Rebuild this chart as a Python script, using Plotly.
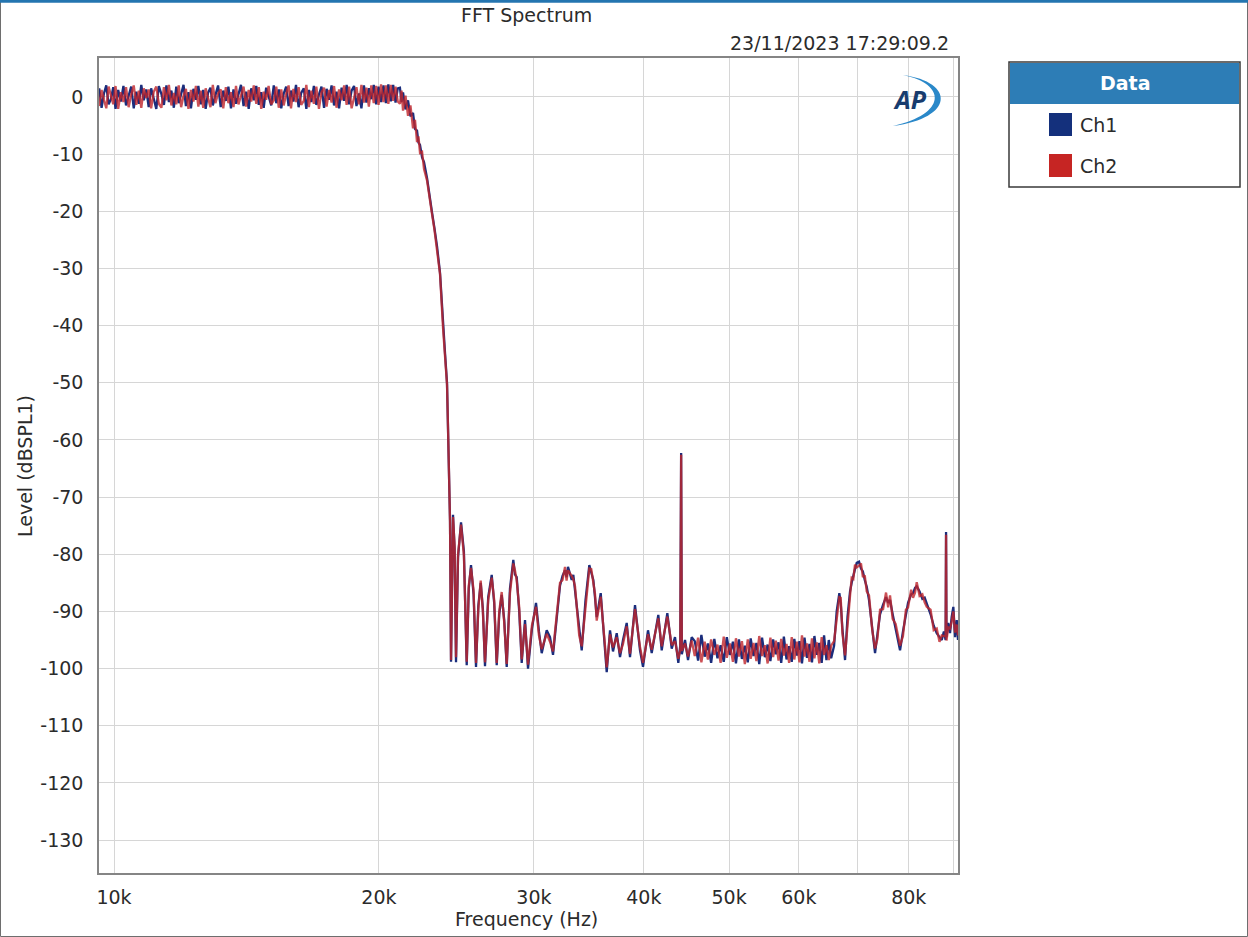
import math
import plotly.graph_objects as go

# ---------------------------------------------------------------------------
# FFT spectrum data (frequency in Hz, level in dBSPL1)
# ---------------------------------------------------------------------------

# Passband (flat region, noisy around 0 dB)
pass_freq = [9620, 9680, 9740, 9800, 9860, 9920, 9980,
             10040, 10110, 10180, 10250, 10320, 10390, 10460, 10530, 10600, 10670,
             10740, 10810, 10880, 10950,
             11020, 11095, 11170, 11245, 11320, 11395, 11470, 11545, 11620, 11695,
             11770, 11845, 11920, 11995,
             12070, 12150, 12230, 12310, 12390, 12470, 12550, 12630, 12710, 12790,
             12870, 12950,
             13040, 13130, 13220, 13310, 13400, 13490, 13580, 13670, 13760, 13850,
             13940,
             14035, 14130, 14225, 14320, 14415, 14510, 14605, 14700, 14795, 14890,
             14985,
             15090, 15190, 15290, 15390, 15490, 15590, 15690, 15790, 15890, 15990,
             16100, 16210, 16320, 16430, 16540, 16650, 16760, 16870, 16980,
             17095, 17210, 17325, 17440, 17555, 17670, 17785, 17900,
             18020, 18140, 18260, 18380, 18500, 18620, 18740, 18860, 18980,
             19105, 19230, 19355, 19480, 19605, 19730, 19855, 19980,
             20110, 20240, 20370, 20500, 20630, 20760, 20890, 21010]
pass_ch1 = [1.5, -1.9, 0.6, 2.0, -1.3, -0.4, 1.7, -2.1, 1.2, -0.8,
            1.9, -1.5, 0.2, 1.8, -2.0, 0.9, -1.2, 2.1, -0.6, 1.3,
            -1.8, 1.5, -0.3, -2.1, 1.9, 0.5, -1.4, 2.0, -0.9, 1.1,
            -1.9, 1.8, -1.1, 0.4, 2.1, -1.6, 0.8, -2.0, 1.4, -0.5,
            1.9, -1.3, 1.2, -2.1, 0.7, 1.6, -1.5, 0.3, 2.0, -1.8,
            1.1, -0.7, 1.8, -2.0, 1.3, -1.2, 0.5, 2.1, -1.6, 0.9,
            -2.1, 1.5, -0.6, 1.9, -1.4, 0.8, -1.9, 1.6, 0.1, -1.5,
            2.0, -1.1, 1.3, -2.0, 0.6, 1.8, -1.6, 1.1, -0.8, 2.1,
            -1.8, 0.7, 1.5, -2.1, 1.2, -0.9, 1.9, -1.4, 0.4, 1.8,
            -1.9, 1.4, -0.5, 2.0, -1.5, 0.9, -2.0, 1.6, -0.7, 2.1,
            -1.3, 1.1, 1.9, -1.6, 0.6, -2.0, 2.0, -1.0, 1.5, -0.4,
            2.1, -1.3, 1.8, -0.9, 2.0, -1.1, 2.2, -0.8, 2.1, -1.0,
            1.5]
pass_ch2 = [-1.6, 1.2, -0.5, -2.0, 1.8, 0.3, -1.3, 1.9, -2.1, 0.8,
            -0.9, 1.7, -1.8, 0.4, 2.0, -1.4, 1.1, -1.9, 1.5, -0.2,
            1.3, -2.0, 0.9, 1.8, -1.2, -1.9, 1.7, -0.6, 2.1, -1.5,
            0.7, -1.3, 2.0, -1.8, 0.2, 1.4, -2.1, 1.2, -0.8, 1.9,
            -1.7, 1.1, -1.9, 1.5, -0.4, -1.8, 2.1, -1.1, 0.6, 1.3,
            -2.0, 1.7, -1.1, 0.8, -1.8, 1.9, -1.3, 0.3, 1.8, -1.7,
            1.2, -0.8, 2.0, -1.2, 1.7, -2.1, 0.9, -0.5, 1.9, -1.3,
            -0.6, 1.8, -1.9, 1.3, -1.5, 0.5, 2.0, -2.0, 1.4, -0.9,
            1.7, -1.4, -0.7, 2.1, -1.8, 1.1, -1.2, 1.8, -2.1, 0.8,
            1.6, -1.7, 1.2, -1.0, 1.9, -1.9, 1.3, -0.6, 2.0, -1.4,
            1.8, -2.0, -0.4, 1.7, -1.3, 2.1, -1.0, 1.6, -1.7, 2.0,
            -1.1, 1.9, -1.4, 2.2, -0.9, 2.0, -1.2, 2.1, -0.7, 1.8,
            -0.8]

# Filter roll-off
roll_freq = [21130, 21220, 21302, 21440, 21582, 21720, 21866, 21980, 22096, 22180,
             22270, 22390, 22505, 22682, 22830, 22981, 23130, 23283, 23467, 23652,
             23780, 23900, 23963, 24030, 24089, 24152]
roll_ch1 = [1.6, -0.9, 0.8, -2.2, -0.6, -3.4, -2.8, -5.6, -5.9, -8.0,
            -8.4, -10.6, -11.4, -14.2, -16.8, -20.2, -23.0, -26.1, -30.8, -40.2,
            -45.0, -50.0, -57.5, -65.0, -74.0, -98.8]
roll_ch2 = [-1.2, 1.1, -2.4, 0.2, -3.3, -1.5, -5.5, -4.0, -7.9, -6.9,
            -9.8, -9.6, -12.6, -14.6, -17.2, -20.5, -23.3, -26.4, -31.0, -40.4,
            -45.3, -50.3, -57.8, -65.4, -74.3, -98.5]

# Stopband side lobes up to the 44.1 kHz component
lobe_freq = [24279, 24380, 24470, 24600, 24793, 24980, 25164, 25300, 25449, 25620,
             25784, 25940, 26103, 26250, 26398, 26620, 26865, 27040, 27219, 27400,
             27577, 27760, 27941, 28180, 28427, 28550, 28681, 28870, 29059, 29311,
             29542, 29850, 30167, 30400, 30620, 31023, 31292, 31539, 31870, 32122,
             32334, 32545, 32680, 32801, 33120, 33260, 33408, 33557, 33777, 33999,
             34338, 34682, 34860, 35047, 35200, 35360, 35732, 36136, 36297, 36612,
             36900, 37259, 37582, 37878, 38247, 38578, 39086, 39601, 39913, 40439,
             40832, 41544, 41915, 42534, 43026, 43399, 43775, 44000, 44100, 44180,
             44550, 44901, 45338]
lobe_ch1 = [-73.1, -79.0, -98.9, -80.5, -74.4, -79.5, -99.4, -86.0, -81.9, -87.0,
            -99.7, -89.0, -85.0, -89.5, -99.6, -87.5, -83.6, -88.5, -99.4, -90.5,
            -87.1, -91.5, -99.7, -86.0, -81.0, -83.5, -84.0, -90.0, -99.0, -91.5,
            -100.0, -93.0, -88.5, -93.5, -97.3, -93.3, -94.5, -97.6, -90.0, -85.5,
            -83.8, -82.8, -84.0, -82.2, -84.5, -83.6, -86.3, -89.2, -93.5, -96.8,
            -88.0, -81.9, -83.2, -84.5, -87.5, -91.0, -86.8, -96.8, -100.6, -93.3,
            -97.0, -93.8, -98.0, -95.0, -92.0, -98.0, -88.9, -96.8, -99.7, -93.3,
            -97.3, -90.6, -96.8, -90.3, -96.5, -94.5, -99.0, -96.0, -62.3, -97.5,
            -95.0, -98.5, -94.5]
lobe_ch2 = [-73.5, -78.5, -98.0, -80.0, -74.8, -80.2, -98.8, -85.5, -82.4, -86.3,
            -99.0, -89.6, -84.6, -90.0, -98.9, -88.0, -84.1, -88.0, -99.0, -90.0,
            -86.6, -92.0, -99.2, -86.8, -81.6, -82.8, -84.6, -89.3, -98.4, -92.2,
            -99.3, -92.4, -89.2, -94.2, -96.6, -93.9, -95.3, -97.0, -90.6, -85.0,
            -84.5, -82.2, -84.6, -82.8, -83.8, -84.4, -85.6, -88.6, -94.2, -96.1,
            -88.6, -82.5, -82.6, -85.2, -86.9, -91.6, -87.4, -96.0, -99.8, -94.0,
            -96.3, -94.5, -97.3, -95.7, -92.6, -97.4, -89.6, -96.2, -99.0, -94.0,
            -96.7, -91.2, -96.1, -90.9, -95.9, -95.2, -98.3, -96.6, -62.6, -96.9,
            -95.6, -97.9, -95.1]

# Noise floor between 45 kHz and 65 kHz
floor_freq = [45700, 46100, 46500, 46900, 47300, 47700, 48100, 48500, 48900, 49300,
              49700, 50100, 50500, 50900, 51300, 51700, 52100, 52500, 52900, 53300,
              53700, 54100, 54500, 54900, 55300, 55700, 56100, 56500, 56900, 57300,
              57700, 58100, 58500, 58900, 59300, 59700, 60100, 60500, 60900, 61300,
              61700, 62100, 62500, 62900, 63300, 63700, 64100, 64500, 64900, 65300]
floor_ch1 = [-95.2, -98.6, -94.1, -97.9, -95.6, -99.0, -94.8, -98.2, -95.9, -98.8,
             -94.5, -97.6, -95.3, -99.1, -94.9, -98.3, -96.0, -98.9, -94.7, -97.8,
             -95.5, -99.2, -94.6, -98.0, -95.8, -98.7, -94.9, -97.5, -95.4, -99.0,
             -94.4, -98.4, -96.1, -98.8, -94.8, -97.7, -95.2, -99.1, -94.6, -98.1,
             -95.7, -98.9, -94.3, -97.6, -95.5, -99.0, -94.2, -98.5, -95.0, -98.2]
floor_ch2 = [-97.8, -94.6, -98.9, -95.3, -98.4, -94.9, -97.6, -95.8, -99.0, -94.4,
             -98.1, -95.6, -98.8, -94.7, -97.9, -95.2, -99.2, -94.9, -98.3, -95.5,
             -98.7, -94.3, -97.8, -95.9, -99.1, -94.6, -98.0, -95.1, -98.6, -94.8,
             -97.7, -95.7, -99.0, -94.5, -98.4, -95.3, -98.9, -94.2, -97.9, -95.6,
             -98.8, -94.7, -98.2, -95.4, -99.1, -94.5, -97.6, -95.9, -98.5, -96.0]

# Upper band humps and the 88.2 kHz component
tail_freq = [65800, 66250, 66712, 66950, 67250, 67714, 68150, 68605, 68900, 69200,
             69500, 69819, 70240, 70600, 70950, 71300, 71670, 72100, 72700, 73244,
             73700, 74208, 74800, 75382, 75800, 76175, 76700, 77300, 78195, 78800,
             79400, 79850, 80500, 80900, 81324, 81687, 82300, 82900, 83400, 83852,
             84700, 85400, 86076, 86700, 87209, 87700, 88100, 88200, 88300, 88700,
             89124, 89500, 89897, 90297, 90700, 91000]
tail_ch1 = [-96.0, -90.0, -86.8, -88.5, -93.0, -98.5, -91.0, -86.5, -85.0, -83.5,
            -82.6, -81.5, -81.3, -82.5, -83.0, -84.5, -85.7, -88.0, -92.5, -97.3,
            -94.0, -90.5, -88.8, -87.5, -88.5, -88.0, -90.5, -93.0, -96.8, -93.5,
            -90.5, -88.5, -87.0, -86.8, -85.9, -85.6, -86.5, -87.8, -87.6, -88.5,
            -90.5, -92.5, -93.8, -94.5, -95.0, -93.5, -95.0, -76.1, -94.5, -92.0,
            -93.8, -91.0, -89.2, -94.5, -91.5, -95.0]
tail_ch2 = [-95.2, -90.8, -87.5, -87.6, -93.8, -97.7, -91.8, -87.3, -84.1, -84.3,
            -81.8, -82.3, -82.0, -81.6, -84.0, -83.7, -86.5, -87.2, -93.2, -96.5,
            -94.8, -89.7, -89.6, -86.7, -89.3, -87.2, -91.3, -92.2, -96.0, -94.3,
            -89.7, -89.3, -86.2, -87.6, -86.7, -84.9, -87.3, -87.0, -88.4, -89.2,
            -89.7, -93.3, -93.0, -95.3, -94.2, -94.3, -94.4, -76.6, -95.1, -92.8,
            -93.0, -91.8, -90.0, -93.7, -92.3, -94.2]

freq = pass_freq + roll_freq + lobe_freq + floor_freq + tail_freq
ch1 = pass_ch1 + roll_ch1 + lobe_ch1 + floor_ch1 + tail_ch1
ch2 = pass_ch2 + roll_ch2 + lobe_ch2 + floor_ch2 + tail_ch2
assert len(freq) == len(ch1) == len(ch2)

# Axis ticks
x_tick_vals = [10000, 20000, 30000, 40000, 50000, 60000, 70000, 80000, 90000]
x_tick_text = ["10k", "20k", "30k", "40k", "50k", "60k", "", "80k", ""]
y_tick_vals = [0, -10, -20, -30, -40, -50, -60, -70, -80, -90, -100, -110, -120, -130]
y_tick_text = [str(v) for v in y_tick_vals]
x_range_hz = (9615, 91000)
y_range_db = (-135.75, 6.8)

# ---------------------------------------------------------------------------
# Layout geometry (pixels)
# ---------------------------------------------------------------------------
W, H = 1248, 937
ML, MR, MT, MB = 99, 290, 58, 64
PW = W - ML - MR
PH = H - MT - MB
FONT = "DejaVu Sans"
TXT = "#2b2b2b"
FS = 19


def px(x):
    return (x - ML) / PW


def py(y):
    return 1 - (y - MT) / PH


fig = go.Figure()
fig.add_trace(go.Scatter(x=freq, y=ch1, mode="lines", name="Ch1",
                         line=dict(color="#1b2d7c", width=2.3)))
fig.add_trace(go.Scatter(x=freq, y=ch2, mode="lines", name="Ch2", opacity=0.8,
                         line=dict(color="#c0262c", width=2.3)))

fig.update_layout(
    width=W, height=H,
    margin=dict(l=ML, r=MR, t=MT, b=MB, autoexpand=False),
    paper_bgcolor="white", plot_bgcolor="white",
    showlegend=False, hovermode=False,
    font=dict(family=FONT, size=FS, color=TXT),
)
fig.update_xaxes(
    type="log", range=[math.log10(x_range_hz[0]), math.log10(x_range_hz[1])],
    tickmode="array", tickvals=x_tick_vals, ticktext=x_tick_text,
    showgrid=True, gridcolor="#d6d6d6", gridwidth=1,
    showline=True, linecolor="#858585", linewidth=1.5, mirror=True,
    ticks="", zeroline=False, ticklabelstandoff=6,
    tickfont=dict(family=FONT, size=FS, color=TXT),
)
fig.update_yaxes(
    range=list(y_range_db),
    tickmode="array", tickvals=y_tick_vals, ticktext=y_tick_text,
    showgrid=True, gridcolor="#d6d6d6", gridwidth=1,
    showline=True, linecolor="#858585", linewidth=1.5, mirror=True,
    ticks="", zeroline=False, ticklabelstandoff=10,
    tickfont=dict(family=FONT, size=FS, color=TXT),
)

annotations = [
    dict(text="FFT Spectrum", x=px(526), y=py(15), xanchor="center", yanchor="middle"),
    dict(text="23/11/2023 17:29:09.2", x=px(951), y=py(43), xanchor="right", yanchor="middle"),
    dict(text="Frequency (Hz)", x=px(526), y=py(919), xanchor="center", yanchor="middle"),
    dict(text="Level (dBSPL1)", x=px(25), y=py(466), xanchor="center", yanchor="middle",
         textangle=-90),
    # legend panel
    dict(text="<b>Data</b>", x=px(1125), y=py(83), xanchor="center", yanchor="middle",
         font=dict(family=FONT, size=19, color="white")),
    dict(text="Ch1", x=px(1078), y=py(125), xanchor="left", yanchor="middle",
         font=dict(family=FONT, size=19, color=TXT)),
    dict(text="Ch2", x=px(1078), y=py(166), xanchor="left", yanchor="middle",
         font=dict(family=FONT, size=19, color=TXT)),
    # AP logo letters
    dict(text="<b><i>AP</i></b>", x=px(910), y=py(99), xanchor="center", yanchor="middle",
         font=dict(family="Open Sans", size=25, color="#183c6e")),
]
for a in annotations:
    a.update(xref="paper", yref="paper", showarrow=False)
fig.update_layout(annotations=annotations)


def rect(x0, y0, x1, y1, **kw):
    return dict(type="rect", xref="paper", yref="paper",
                x0=px(x0), x1=px(x1), y0=py(y1), y1=py(y0), **kw)


# crescent swoosh of the AP logo
arc = (f"M {px(903)},{py(75)} "
       f"C {px(955)},{py(82)} {px(955)},{py(118)} {px(893)},{py(126)} "
       f"C {px(947)},{py(114)} {px(947)},{py(84)} {px(903)},{py(75)} Z")

shapes = [
    # outer frame of the window
    rect(0.5, 0.5, W - 0.5, H - 0.5, line=dict(color="#6e6e6e", width=1),
         fillcolor="rgba(0,0,0,0)"),
    dict(type="line", xref="paper", yref="paper", x0=px(0), x1=px(W), y0=py(1.2), y1=py(1.2),
         line=dict(color="#2475b0", width=3)),
    # legend panel
    rect(1009, 62, 1240, 187, line=dict(color="#3a3a3a", width=1.5), fillcolor="white"),
    rect(1010, 63, 1239, 104, line=dict(width=0), fillcolor="#2d7db6"),
    rect(1049, 113, 1072, 136, line=dict(width=0), fillcolor="#14307c"),
    rect(1049, 154, 1072, 177, line=dict(width=0), fillcolor="#c62523"),
    dict(type="path", xref="paper", yref="paper", path=arc,
         line=dict(width=0), fillcolor="#2a88c9"),
]
fig.update_layout(shapes=shapes)

fig.write_html("out.html")
